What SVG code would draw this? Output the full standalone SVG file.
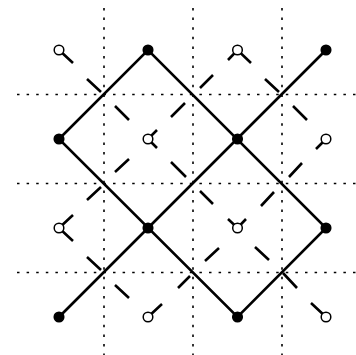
<svg xmlns="http://www.w3.org/2000/svg" width="356" height="355" viewBox="0 0 356 355">
<style>
.grid{stroke:#000;stroke-width:1.6;stroke-dasharray:2.5 7.1;fill:none}
.s{stroke:#000;stroke-width:2.6;fill:none}
.d{stroke:#000;stroke-width:2.6;fill:none;stroke-linecap:butt}
.f{fill:#000;stroke:#000;stroke-width:1.5}
.o{fill:#fff;stroke:#000;stroke-width:1.5}
</style>
<rect width="356" height="355" fill="#fff"/>
<g id="connectors">
<g id="grid">
<path class="grid" d="M104 8V355M193 8V355M282 8V355"/>
<path class="grid" d="M17 94.500H356M17 183.500H356M17 272.500H356"/>
</g>
<g id="dashed">
<path class="d" d="M59 50L73 63M87 79L101 92M115 106L129 120M157 130L148 139L157 148M115 172L129 159M171 117L185 103M171 162L186 177M200 88L213 75M228 60L237.500 50L251 63M265 79L279 92M293 106L307 120M326 139L316 149M289 177L302 163M87 200L101 187M73 215L59 228L73 241M87 257L101 270M115 285L129 298M148 317L162 304M178 288L190 276M200 191L213 204M261 206L274 192M228 219L237.500 228L246 219M205 261L219 248M255 247L269 260M283 273L297 288M326 317L311 303"/>
</g>
<g id="solid">
<path class="s" d="M59 139L148 50L326 228L237.500 317Z"/>
<path class="s" d="M59 317L326 50"/>
</g>
</g>
<g id="n1"><circle class="o" cx="59" cy="50" r="4.800"/></g>
<g id="n2"><circle class="f" cx="148" cy="50" r="4.800"/></g>
<g id="n3"><circle class="o" cx="237.500" cy="50" r="4.800"/></g>
<g id="n4"><circle class="f" cx="326" cy="50" r="4.800"/></g>
<g id="n5"><circle class="f" cx="59" cy="139" r="4.800"/></g>
<g id="n6"><circle class="o" cx="148" cy="139" r="4.800"/></g>
<g id="n7"><circle class="f" cx="237.500" cy="139" r="4.800"/></g>
<g id="n8"><circle class="o" cx="326" cy="139" r="4.800"/></g>
<g id="n9"><circle class="o" cx="59" cy="228" r="4.800"/></g>
<g id="n10"><circle class="f" cx="148" cy="228" r="4.800"/></g>
<g id="n11"><circle class="o" cx="237.500" cy="228" r="4.800"/></g>
<g id="n12"><circle class="f" cx="326" cy="228" r="4.800"/></g>
<g id="n13"><circle class="f" cx="59" cy="317" r="4.800"/></g>
<g id="n14"><circle class="o" cx="148" cy="317" r="4.800"/></g>
<g id="n15"><circle class="f" cx="237.500" cy="317" r="4.800"/></g>
<g id="n16"><circle class="o" cx="326" cy="317" r="4.800"/></g>
</svg>
